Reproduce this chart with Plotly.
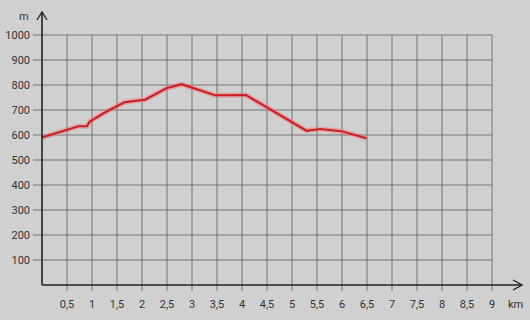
import plotly.graph_objects as go

# Data
km = [0.0, 0.4, 0.73, 0.9, 0.95, 1.3, 1.65, 2.06, 2.49, 2.79, 3.46, 4.08, 5.29, 5.56, 5.99, 6.49]
elev = [590, 615, 635, 635, 653, 695, 731, 741, 787, 803, 759, 760, 617, 624, 615, 587]
x_ticks = [0.5, 1, 1.5, 2, 2.5, 3, 3.5, 4, 4.5, 5, 5.5, 6, 6.5, 7, 7.5, 8, 8.5, 9]
x_labels = ["0,5", "1", "1,5", "2", "2,5", "3", "3,5", "4", "4,5", "5", "5,5", "6", "6,5", "7", "7,5", "8", "8,5", "9"]
y_ticks = [100, 200, 300, 400, 500, 600, 700, 800, 900, 1000]
y_labels = [str(v) for v in y_ticks]

BG = "#d0d0d0"
GRID = "#747474"
AX = "#222222"
TXT = "#333333"

KX = 0.02   # km per pixel
KY = 4.0    # m per pixel

XMIN, XR = -0.18, 9.72
YMIN, YR = -28, 1100
AXR = 9.6   # x arrow tip
AYR = 1092  # y arrow tip

fig = go.Figure()
fig.add_trace(go.Scatter(x=km, y=elev, mode="lines",
                         line=dict(color="rgba(235,125,125,0.5)", width=5),
                         hoverinfo="skip", showlegend=False))
fig.add_trace(go.Scatter(x=km, y=elev, mode="lines",
                         line=dict(color="#cc2026", width=2.2),
                         showlegend=False))

shapes = []
xmax = x_ticks[-1]
ymax = y_ticks[-1]
for xv in x_ticks:
    shapes.append(dict(type="line", xref="x", yref="y", x0=xv, x1=xv, y0=-6 * KY, y1=ymax,
                       line=dict(color=GRID, width=1), layer="below"))
for yv in y_ticks:
    shapes.append(dict(type="line", xref="x", yref="y", x0=-9 * KX, x1=xmax, y0=yv, y1=yv,
                       line=dict(color=GRID, width=1), layer="below"))

shapes.append(dict(type="line", xref="x", yref="y", x0=0, x1=0, y0=0, y1=AYR,
                   line=dict(color=AX, width=1.6)))
shapes.append(dict(type="line", xref="x", yref="y", x0=0, x1=AXR, y0=0, y1=0,
                   line=dict(color=AX, width=1.6)))
shapes.append(dict(type="path", xref="x", yref="y",
                   path=f"M {-5*KX} {AYR-8*KY} L 0 {AYR} L {5*KX} {AYR-8*KY}",
                   line=dict(color=AX, width=1.4)))
shapes.append(dict(type="path", xref="x", yref="y",
                   path=f"M {AXR-9*KX} {5*KY} L {AXR} 0 L {AXR-9*KX} {-5*KY}",
                   line=dict(color=AX, width=1.4)))

fig.update_layout(
    width=530, height=320,
    margin=dict(l=33, r=2, t=10, b=28),
    paper_bgcolor=BG, plot_bgcolor=BG,
    shapes=shapes,
    font=dict(family="Roboto, DejaVu Sans", size=11, color=TXT),
    xaxis=dict(range=[XMIN, XR], showgrid=False, zeroline=False, showline=False,
               tickvals=x_ticks, ticktext=x_labels, ticks="", ticklabelstandoff=4,
               fixedrange=True),
    yaxis=dict(range=[YMIN, YR], showgrid=False, zeroline=False, showline=False,
               tickvals=y_ticks, ticktext=y_labels, ticks="", ticklabelstandoff=2,
               fixedrange=True),
    annotations=[
        dict(text="m", xref="paper", yref="paper", x=0, y=1, xanchor="center",
             yanchor="middle", showarrow=False, font=dict(size=11, color=TXT),
             xshift=-9, yshift=-6),
        dict(text="km", xref="x", yref="paper", x=9.46, y=0, xanchor="center",
             yanchor="top", showarrow=False, font=dict(size=11, color=TXT), yshift=-4),
    ],
)

fig.write_html("out.html")
